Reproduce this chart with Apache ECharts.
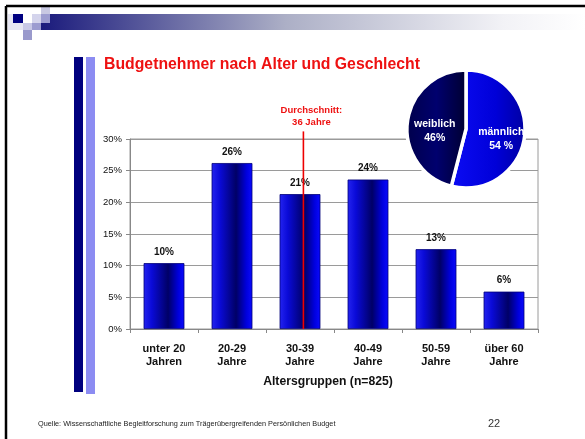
<!DOCTYPE html>
<html><head><meta charset="utf-8">
<script src="https://cdn.jsdelivr.net/npm/echarts@6/dist/echarts.min.js"></script>
<style>html,body{margin:0;padding:0;background:#fff}#c{width:585px;height:439px}</style>
</head><body><div id="c"></div>
<script>
const categories = ['unter 20\nJahren', '20-29\nJahre', '30-39\nJahre', '40-49\nJahre', '50-59\nJahre', 'über 60\nJahre'];
const barValues = [10.4, 26.2, 21.3, 23.6, 12.6, 5.9];
const barLabels = ['10%', '26%', '21%', '24%', '13%', '6%'];
const yTicks = [0, 5, 10, 15, 20, 25, 30];
const pieNames = ['männlich', 'weiblich'];
const pieValues = [54, 46];
const pieLabels = ['männlich\n54 %', 'weiblich\n46%'];
const avgAge = 36;
const avgPos = 2.55;      // position of the average age on the category scale
const avgLineTop = 31.2;  // top of the average marker line (percent scale)

const F = 'Liberation Sans, Arial, sans-serif';
const chart = echarts.init(document.getElementById('c'), null, {renderer: 'canvas'});

const barGrad = new echarts.graphic.LinearGradient(0, 0, 1, 0, [
  {offset: 0, color: '#2424f0'}, {offset: 0.2, color: '#0a0ad8'},
  {offset: 0.6, color: '#000066'}, {offset: 0.85, color: '#0000dc'}, {offset: 1, color: '#0a0aff'}
]);
const maleGrad = new echarts.graphic.LinearGradient(0, 0, 1, 0, [
  {offset: 0, color: '#0c0cf5'}, {offset: 0.6, color: '#0000d8'}, {offset: 1, color: '#0000a0'}
]);
const femGrad = new echarts.graphic.LinearGradient(0, 0, 1, 0, [
  {offset: 0, color: '#00004a'}, {offset: 0.5, color: '#00006e'}, {offset: 1, color: '#00002e'}
]);

const option = {
  animation: false,
  textStyle: {fontFamily: F},
  title: [{
    text: 'Budgetnehmer nach Alter und Geschlecht',
    left: 99, top: 52,
    textStyle: {color: '#ee1111', fontSize: 15.8, fontWeight: 'bold', fontFamily: F}
  }, {
    text: 'Quelle: Wissenschaftliche Begleitforschung zum Trägerübergreifenden Persönlichen Budget',
    left: 33, top: 415,
    textStyle: {color: '#222', fontSize: 7.3, fontWeight: 'normal', fontFamily: F}
  }, {
    text: '22',
    left: 483, top: 413,
    textStyle: {color: '#333', fontSize: 11, fontWeight: 'normal', fontFamily: F}
  }],
  graphic: [
    {type: 'rect', shape: {x: 40, y: 14, width: 545, height: 16}, style: {
      fill: new echarts.graphic.LinearGradient(0, 0, 1, 0, [
        {offset: 0, color: '#1a1a7c'}, {offset: 0.45, color: '#acafc6'}, {offset: 0.85, color: '#f2f2f6'}, {offset: 1, color: '#ffffff'}
      ])}},
    {type: 'rect', shape: {x: 8, y: 14, width: 5, height: 16}, style: {fill: '#e6e6f3'}},
    {type: 'rect', shape: {x: 13, y: 23, width: 10, height: 7}, style: {fill: '#e6e6f3'}},
    {type: 'rect', shape: {x: 13, y: 14, width: 10, height: 9}, style: {fill: '#000080'}},
    {type: 'rect', shape: {x: 23, y: 23, width: 9, height: 7}, style: {fill: '#c8c8e6'}},
    {type: 'rect', shape: {x: 32, y: 14, width: 9, height: 9}, style: {fill: '#d4d4ec'}},
    {type: 'rect', shape: {x: 32, y: 23, width: 9, height: 7}, style: {fill: '#9c9cd0'}},
    {type: 'rect', shape: {x: 41, y: 5, width: 9, height: 9}, style: {fill: '#c8c8e2'}},
    {type: 'rect', shape: {x: 41, y: 14, width: 9, height: 9}, style: {fill: '#9c9cd0'}},
    {type: 'rect', shape: {x: 23, y: 30, width: 9, height: 10}, style: {fill: '#9a9acc'}},
    {type: 'line', shape: {x1: 6, y1: 6, x2: 585, y2: 6}, style: {stroke: '#000', lineWidth: 2.5}},
    {type: 'line', shape: {x1: 6, y1: 6, x2: 6, y2: 439}, style: {stroke: '#000', lineWidth: 2.5}},
    {type: 'rect', shape: {x: 74, y: 57, width: 9, height: 335}, style: {fill: '#00007e'}},
    {type: 'rect', shape: {x: 86, y: 57, width: 9, height: 337}, style: {fill: '#8c8cf2'}}
  ],
  grid: {left: 130, right: 47, top: 139, bottom: 110, show: true, borderColor: '#9a9a9a', borderWidth: 1, backgroundColor: 'transparent'},
  xAxis: [{
    type: 'category', data: categories,
    axisLine: {lineStyle: {color: '#888', width: 1}},
    axisTick: {show: true, length: 4, lineStyle: {color: '#888'}},
    axisLabel: {color: '#111', fontSize: 11, fontWeight: 'bold', lineHeight: 13, margin: 13, fontFamily: F},
    name: 'Altersgruppen (n=825)', nameLocation: 'middle', nameGap: 47,
    nameTextStyle: {color: '#111', fontSize: 12.2, fontWeight: 'bold', fontFamily: F, padding: [0, 12, 0, 0]}
  }, {
    type: 'value', min: 0, max: categories.length, show: false
  }],
  yAxis: {
    type: 'value', min: yTicks[0], max: yTicks[yTicks.length - 1], interval: 5,
    axisLine: {show: true, lineStyle: {color: '#888'}},
    axisTick: {show: true, length: 4, lineStyle: {color: '#888'}},
    axisLabel: {color: '#111', fontSize: 9.5, margin: 8, formatter: v => v + '%', fontFamily: F},
    splitLine: {lineStyle: {color: '#9a9a9a', width: 1}}
  },
  series: [{
    type: 'bar', data: barValues, barWidth: '60%', xAxisIndex: 0,
    itemStyle: {color: barGrad, borderColor: '#00007a', borderWidth: 0.8},
    label: {show: true, position: 'top', distance: 6, color: '#111', fontSize: 10, fontWeight: 'bold',
      formatter: p => barLabels[p.dataIndex], fontFamily: F},
    silent: true
  }, {
    type: 'line', xAxisIndex: 1, data: [[avgPos, 0], [avgPos, avgLineTop]],
    symbol: 'none', clip: false, silent: true, z: 5,
    lineStyle: {color: '#ee0000', width: 1.6},
    label: {show: false},
    endLabel: {show: true, formatter: 'Durchschnitt:\n' + avgAge + ' Jahre', color: '#ee1111', fontSize: 9.5, fontWeight: 'bold',
      lineHeight: 12, align: 'center', verticalAlign: 'bottom', offset: [0, -3], fontFamily: F}
  }, {
    type: 'pie', center: [466, 129], radius: [0, 59], startAngle: 90, clockwise: true,
    silent: true, z: 10,
    data: pieNames.map((n, i) => ({name: n, value: pieValues[i],
      itemStyle: {color: i === 0 ? maleGrad : femGrad},
      label: {offset: i === 0 ? [3, 6] : [1, 6]}})),
    itemStyle: {borderColor: '#fff', borderWidth: 3.5},
    label: {show: true, position: 'inside', color: '#fff', fontSize: 10.5, fontWeight: 'bold', lineHeight: 13.5,
      formatter: p => pieLabels[p.dataIndex], fontFamily: F},
    labelLine: {show: false}
  }]
};
chart.setOption(option);
</script></body></html>
